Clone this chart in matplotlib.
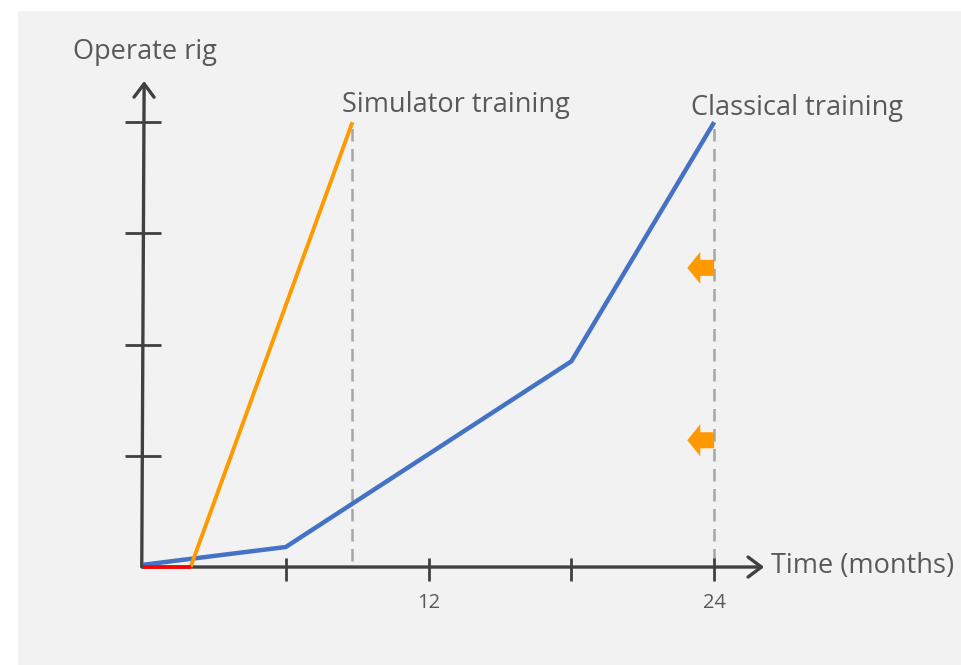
import matplotlib.pyplot as plt
from matplotlib.patches import FancyArrow

plt.rcParams['font.family'] = ['Open Sans', 'DejaVu Sans']

# learning curves (months vs. skill level)
classical_x = [0, 6, 18, 24]
classical_y = [0.02, 0.18, 1.85, 4.0]
simulator_x = [2, 8.8]
simulator_y = [0, 4.0]
lead_in_x = [0, 2]
lead_in_y = [0, 0]

x_ticks = [6, 12, 18, 24]
x_tick_labels = ["", "12", "", "24"]
y_ticks = [1, 2, 3, 4]
gain_levels = [2.69, 1.14]

BLUE = "#4472C4"
ORANGE = "#FF9900"
AXIS = "#404040"
TEXT = "#595959"
GRID = "#A6A6A6"

fig = plt.figure(figsize=(9.61, 6.65), dpi=100, facecolor="white")
ax = fig.add_axes([18 / 961, 0, 943 / 961, 654 / 665])
ax.set_facecolor("#F2F2F2")
ax.set_xlim(-5.25, 34.37)
ax.set_ylim(-0.881, 5.0)
ax.set_xticks([])
ax.set_yticks([])
for s in ax.spines.values():
    s.set_visible(False)

# axes with arrow heads
head = dict(arrowstyle="->,head_length=0.4,head_width=0.3", lw=2.4, color=AXIS,
            mutation_scale=24, shrinkA=0, shrinkB=0)
ax.annotate("", xy=(26.1, 0), xytext=(0, 0), arrowprops=head, zorder=2)
ax.annotate("", xy=(0.05, 4.37), xytext=(-0.05, 0), arrowprops=head, zorder=2)

ax.vlines(x_ticks, -0.125, 0.08, color=AXIS, lw=2, zorder=2)
ax.hlines(y_ticks, -0.75, 0.75, color=AXIS, lw=2, zorder=2)
for xt, lab in zip(x_ticks, x_tick_labels):
    ax.text(xt, -0.37, lab, ha="center", va="baseline", fontsize=14.5, color=TEXT)

# end-of-training markers
ax.vlines([simulator_x[-1], classical_x[-1]], 0.05, 4.0, color=GRID, lw=1.8,
          linestyles=(0, (5, 3)), zorder=1)

ax.plot(classical_x, classical_y, color=BLUE, lw=3.2, solid_capstyle="butt", zorder=3)
ax.plot(simulator_x, simulator_y, color=ORANGE, lw=2.8, solid_capstyle="butt", zorder=3)
ax.plot(lead_in_x, lead_in_y, color="#FF0000", lw=2.6, solid_capstyle="butt", zorder=4)

for lvl in gain_levels:
    ax.add_patch(FancyArrow(24, lvl, -1.13, 0, width=0.144, head_width=0.288,
                            head_length=0.546, length_includes_head=True,
                            color=ORANGE, lw=0, zorder=3))

ax.text(0.08, 4.57, "Operate rig", ha="center", va="baseline", fontsize=19.5, color=TEXT)
ax.text(8.36, 4.095, "Simulator training", ha="left", va="baseline", fontsize=19.5, color=TEXT)
ax.text(23.03, 4.065, "Classical training", ha="left", va="baseline", fontsize=19.5, color=TEXT)
ax.text(26.39, -0.05, "Time (months)", ha="left", va="baseline", fontsize=19.5, color=TEXT)

fig.savefig("out.png", dpi=100, facecolor=fig.get_facecolor())
